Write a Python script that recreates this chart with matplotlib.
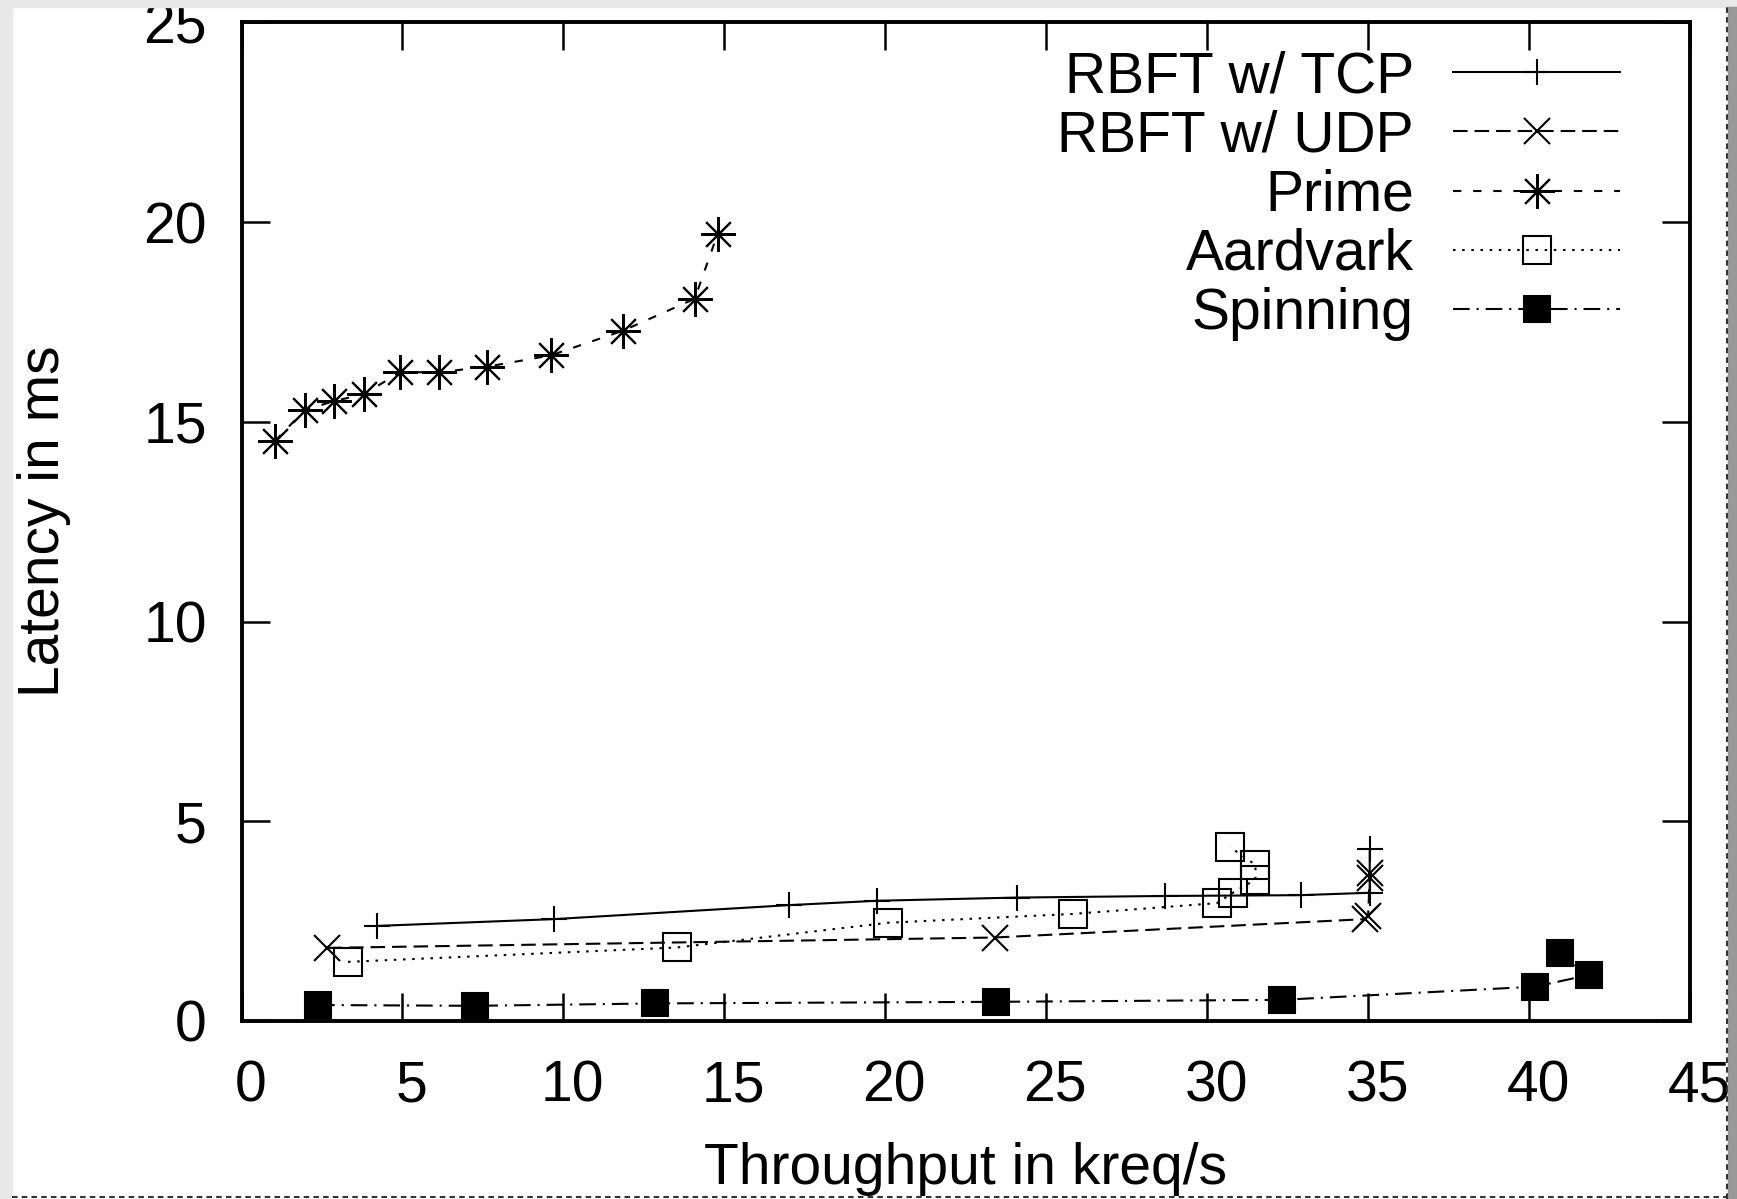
import matplotlib
matplotlib.use("Agg")
import matplotlib.pyplot as plt
import matplotlib.transforms as mtrans
from matplotlib.patches import Rectangle
from matplotlib.lines import Line2D

# values (throughput in kreq/s, latency in ms)
tcp_x = [4.2, 9.7, 17.0, 19.75, 24.1, 28.7, 32.9, 35.05, 35.05]
tcp_y = [2.38, 2.55, 2.90, 3.01, 3.09, 3.13, 3.15, 3.21, 4.30]

udp_x = [2.67, 23.4, 34.9, 35.0, 35.05, 35.05]
udp_y = [1.83, 2.09, 2.55, 2.64, 3.58, 3.70]

prime_x = [1.04, 1.96, 2.88, 3.81, 4.92, 6.14, 7.64, 9.60, 11.85, 14.08, 14.79]
prime_y = [14.52, 15.29, 15.52, 15.69, 16.24, 16.24, 16.38, 16.66, 17.28, 18.08, 19.70]

aard_x = [3.31, 13.53, 20.09, 25.82, 30.3, 30.8, 31.5, 31.5, 30.7]
aard_y = [1.48, 1.84, 2.46, 2.68, 2.95, 3.21, 3.54, 3.91, 4.36]

spin_x = [2.38, 7.25, 12.84, 23.45, 32.34, 40.19, 41.85, 40.95]
spin_y = [0.40, 0.38, 0.44, 0.48, 0.53, 0.86, 1.15, 1.69]

xticks = list(range(0, 46, 5))
yticks = list(range(0, 26, 5))

plt.rcParams['font.family'] = ['Liberation Sans', 'DejaVu Sans']
plt.rcParams['lines.scale_dashes'] = False
fs = 41

fig = plt.figure(figsize=(17.37, 11.99), dpi=100)
ax = fig.add_axes([241.5 / 1737, 178 / 1199, 1448.5 / 1737, 998.7 / 1199])

lw = 1.5
mew = 1.5
ax.plot(tcp_x, tcp_y, color='black', lw=lw, ls='-', marker='+', ms=19, mew=mew,
        label='RBFT w/ TCP')
ax.plot(udp_x, udp_y, color='black', lw=lw, ls=(0, (10.5, 5)), marker='x', ms=19, mew=mew,
        label='RBFT w/ UDP')
ax.plot(prime_x, prime_y, color='black', lw=lw, ls=(0, (6, 8.5)), marker=(8, 2, 0), ms=25,
        mew=mew, label='Prime')
ax.plot(aard_x, aard_y, color='black', lw=lw, ls=(0, (1.8, 4.8)), marker='s', ms=20,
        mew=mew, mfc='none', label='Aardvark')
ax.plot(spin_x, spin_y, color='black', lw=lw, ls=(0, (12, 5, 1.5, 5)), marker='s', ms=19,
        mew=mew, mfc='black', label='Spinning')

ax.set_xlim(0, 45)
ax.set_ylim(0, 25)
ax.set_xticks(xticks)
ax.set_yticks(yticks)
ax.tick_params(axis='both', which='major', direction='in', length=20, width=1.8,
               top=True, right=True, labelsize=fs)
ax.tick_params(axis='y', pad=25)
ax.tick_params(axis='x', pad=28)
for s in ax.spines.values():
    s.set_linewidth(2.8)

# gnuplot puts the x tick numbers a little right of the ticks
shift = mtrans.ScaledTranslation(6.5 / 72, 0, fig.dpi_scale_trans)
for lab in ax.get_xticklabels():
    lab.set_transform(lab.get_transform() + shift)

ax.set_xlabel('Throughput in kreq/s', fontsize=fs)
ax.set_ylabel('Latency in ms', fontsize=fs)
ax.xaxis.set_label_coords(0.5, -0.121)
ax.yaxis.set_label_coords(-0.118, 0.5)

ax.legend(loc='upper right', bbox_to_anchor=(0.9517, 0.972), frameon=False,
          markerfirst=False, fontsize=fs, handlelength=2.93, handletextpad=0.69,
          labelspacing=0.09, borderpad=0, borderaxespad=0)

# screenshot frame around the plot
fig.patches.append(Rectangle((0, 0), 12 / 1737, 1, transform=fig.transFigure,
                             color='#e8e8e8', zorder=10))
fig.patches.append(Rectangle((0, 1 - 7 / 1199), 1, 7 / 1199, transform=fig.transFigure,
                             color='#e8e8e8', zorder=10))
fig.patches.append(Rectangle((1728 / 1737, 0), 9 / 1737, 1 - 7 / 1199,
                             transform=fig.transFigure, color='#999999', zorder=10))
fig.lines.append(Line2D([1726.5 / 1737] * 2, [0, 1 - 7 / 1199], transform=fig.transFigure,
                        color='#333333', lw=1.5, ls=(0, (4, 3)), zorder=11))
fig.lines.append(Line2D([12 / 1737, 1726.5 / 1737], [2 / 1199] * 2, transform=fig.transFigure,
                        color='#333333', lw=1.5, ls=(0, (4, 3)), zorder=11))

fig.savefig('out.png', dpi=100)
